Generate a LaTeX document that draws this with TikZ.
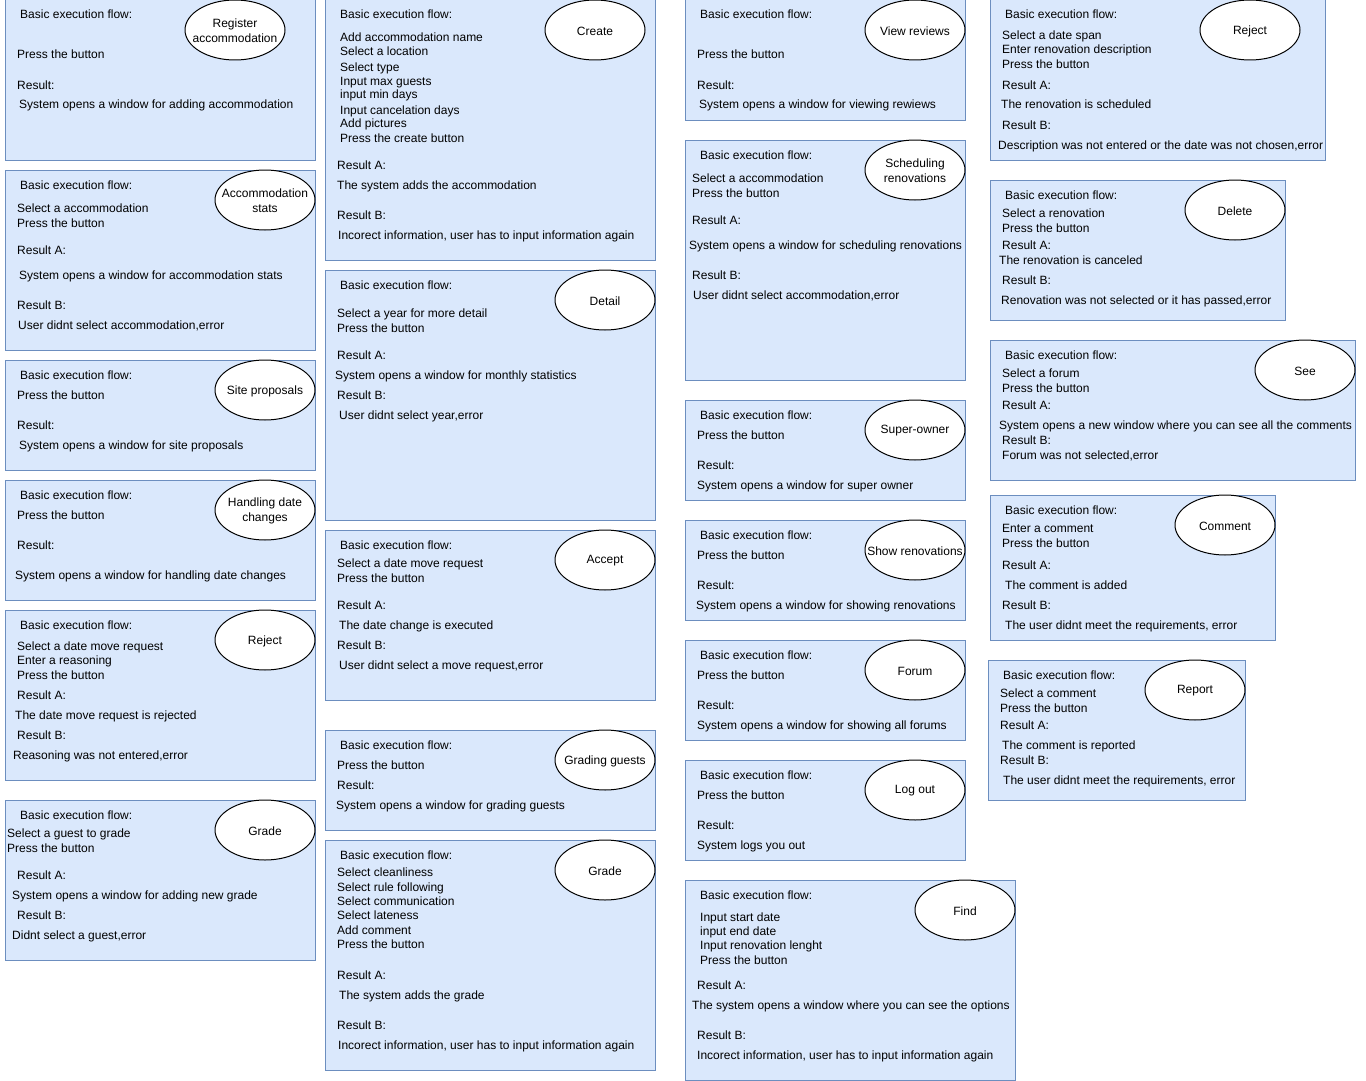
\documentclass[tikz,border=0pt]{standalone}
\usepackage{fontspec}
\setmainfont{Liberation Sans}
\usetikzlibrary{shapes.geometric,fit}
\definecolor{boxfill}{HTML}{DAE8FC}
\definecolor{boxline}{HTML}{6C8EBF}
\newcounter{tn}
\newcommand\tl[3]{\stepcounter{tn}\node[txt] (t\arabic{tn}) at (#1,#2) {#3};}
\newcommand\bx[5]{\node[box, fit={(#2,#3) (#4,#5)}] (#1) {};}
\newcommand\el[4]{\node[ell] (#1) at (#2,#3) {};\node[elltxt] (#1t) at (#1.center) {#4};}
\begin{document}
\begin{tikzpicture}[x=1pt,y=-1pt,
  box/.style={draw=boxline, fill=boxfill, line width=1pt, inner sep=0pt},
  ell/.style={ellipse, draw=black, fill=white, line width=1pt, minimum width=100pt, minimum height=60pt, inner sep=0pt},
  elltxt/.style={inner sep=0pt, align=center, yshift=-1pt, font=\fontsize{12}{15}\selectfont},
  txt/.style={anchor=west, inner sep=0pt, yshift=-2pt, text height=9pt, text depth=3pt, font=\fontsize{12}{14}\selectfont}]
\useasboundingbox (0,0) rectangle (1366,1081);
% ---------- Column 1 ----------
\bx{b1}{5}{0}{315}{160}
\el{e1}{235}{30}{Register\\accommodation}
\tl{20}{14}{Basic execution flow:}
\tl{17}{54}{Press the button}
\tl{17}{84}{Result:}
\tl{19}{104}{System opens a window for adding accommodation}

\bx{b2}{5}{170}{315}{350}
\el{e2}{265}{200}{Accommodation\\stats}
\tl{20}{184}{Basic execution flow:}
\tl{17}{207}{Select a accommodation}
\tl{17}{222}{Press the button}
\tl{17}{249}{Result A:}
\tl{19}{274}{System opens a window for accommodation stats}
\tl{17}{304}{Result B:}
\tl{18}{324}{User didnt select accommodation,error}

\bx{b3}{5}{360}{315}{470}
\el{e3}{265}{390}{Site proposals}
\tl{20}{374}{Basic execution flow:}
\tl{17}{394}{Press the button}
\tl{17}{424}{Result:}
\tl{19}{444}{System opens a window for site proposals}

\bx{b4}{5}{480}{315}{600}
\el{e4}{265}{510}{Handling date\\changes}
\tl{20}{494}{Basic execution flow:}
\tl{17}{514}{Press the button}
\tl{17}{544}{Result:}
\tl{15}{574}{System opens a window for handling date changes}

\bx{b5}{5}{610}{315}{780}
\el{e5}{265}{640}{Reject}
\tl{20}{624}{Basic execution flow:}
\tl{17}{645}{Select a date move request}
\tl{17}{659}{Enter a reasoning}
\tl{17}{674}{Press the button}
\tl{17}{694}{Result A:}
\tl{15}{714}{The date move request is rejected}
\tl{17}{734}{Result B:}
\tl{13}{754}{Reasoning was not entered,error}

\bx{b6}{5}{800}{315}{960}
\el{e6}{265}{830}{Grade}
\tl{20}{814}{Basic execution flow:}
\tl{7}{832}{Select a guest to grade}
\tl{7}{847}{Press the button}
\tl{17}{874}{Result A:}
\tl{12}{894}{System opens a window for adding new grade}
\tl{17}{914}{Result B:}
\tl{12}{934}{Didnt select a guest,error}

% ---------- Column 2 ----------
\bx{b7}{325}{0}{655}{260}
\el{e7}{595}{30}{Create}
\tl{340}{14}{Basic execution flow:}
\tl{340}{37}{Add accommodation name}
\tl{340}{51}{Select a location}
\tl{340}{66}{Select type}
\tl{340}{80}{Input max guests}
\tl{340}{94}{input min days}
\tl{340}{109}{Input cancelation days}
\tl{340}{123}{Add pictures}
\tl{340}{137}{Press the create button}
\tl{337}{164}{Result A:}
\tl{337}{184}{The system adds the accommodation}
\tl{337}{214}{Result B:}
\tl{338}{234}{Incorect information, user has to input information again}

\bx{b8}{325}{270}{655}{520}
\el{e8}{605}{300}{Detail}
\tl{340}{284}{Basic execution flow:}
\tl{337}{312}{Select a year for more detail}
\tl{337}{327}{Press the button}
\tl{337}{354}{Result A:}
\tl{335}{374}{System opens a window for monthly statistics}
\tl{337}{394}{Result B:}
\tl{339}{414}{User didnt select year,error}

\bx{b9}{325}{530}{655}{700}
\el{e9}{605}{560}{Accept}
\tl{340}{544}{Basic execution flow:}
\tl{337}{562}{Select a date move request}
\tl{337}{577}{Press the button}
\tl{337}{604}{Result A:}
\tl{339}{624}{The date change is executed}
\tl{337}{644}{Result B:}
\tl{339}{664}{User didnt select a move request,error}

\bx{b10}{325}{730}{655}{830}
\el{e10}{605}{760}{Grading guests}
\tl{340}{744}{Basic execution flow:}
\tl{337}{764}{Press the button}
\tl{337}{784}{Result:}
\tl{336}{804}{System opens a window for grading guests}

\bx{b11}{325}{840}{655}{1070}
\el{e11}{605}{870}{Grade}
\tl{340}{854}{Basic execution flow:}
\tl{337}{871}{Select cleanliness}
\tl{337}{886}{Select rule following}
\tl{337}{900}{Select communication}
\tl{337}{914}{Select lateness}
\tl{337}{929}{Add comment}
\tl{337}{943}{Press the button}
\tl{337}{974}{Result A:}
\tl{339}{994}{The system adds the grade}
\tl{337}{1024}{Result B:}
\tl{338}{1044}{Incorect information, user has to input information again}

% ---------- Column 3 ----------
\bx{b12}{685}{0}{965}{120}
\el{e12}{915}{30}{View reviews}
\tl{700}{14}{Basic execution flow:}
\tl{697}{54}{Press the button}
\tl{697}{84}{Result:}
\tl{699}{104}{System opens a window for viewing rewiews}

\bx{b13}{685}{140}{965}{380}
\el{e13}{915}{170}{Scheduling\\renovations}
\tl{700}{154}{Basic execution flow:}
\tl{692}{177}{Select a accommodation}
\tl{692}{192}{Press the button}
\tl{692}{219}{Result A:}
\tl{689}{244}{System opens a window for scheduling renovations}
\tl{692}{274}{Result B:}
\tl{693}{294}{User didnt select accommodation,error}

\bx{b14}{685}{400}{965}{500}
\el{e14}{915}{430}{Super-owner}
\tl{700}{414}{Basic execution flow:}
\tl{697}{434}{Press the button}
\tl{697}{464}{Result:}
\tl{697}{484}{System opens a window for super owner}

\bx{b15}{685}{520}{965}{620}
\el{e15}{915}{550}{Show renovations}
\tl{700}{534}{Basic execution flow:}
\tl{697}{554}{Press the button}
\tl{697}{584}{Result:}
\tl{696}{604}{System opens a window for showing renovations}

\bx{b16}{685}{640}{965}{740}
\el{e16}{915}{670}{Forum}
\tl{700}{654}{Basic execution flow:}
\tl{697}{674}{Press the button}
\tl{697}{704}{Result:}
\tl{697}{724}{System opens a window for showing all forums}

\bx{b17}{685}{760}{965}{860}
\el{e17}{915}{790}{Log out}
\tl{700}{774}{Basic execution flow:}
\tl{697}{794}{Press the button}
\tl{697}{824}{Result:}
\tl{697}{844}{System logs you out}

\bx{b18}{685}{880}{1015}{1080}
\el{e18}{965}{910}{Find}
\tl{700}{894}{Basic execution flow:}
\tl{700}{916}{Input start date}
\tl{700}{930}{input end date}
\tl{700}{944}{Input renovation lenght}
\tl{700}{959}{Press the button}
\tl{697}{984}{Result A:}
\tl{692}{1004}{The system opens a window where you can see the options}
\tl{697}{1034}{Result B:}
\tl{697}{1054}{Incorect information, user has to input information again}

% ---------- Column 4 ----------
\bx{b19}{990}{0}{1325}{160}
\el{e19}{1250}{30}{Reject}
\tl{1005}{14}{Basic execution flow:}
\tl{1002}{35}{Select a date span}
\tl{1002}{49}{Enter renovation description}
\tl{1002}{64}{Press the button}
\tl{1002}{84}{Result A:}
\tl{1001}{104}{The renovation is scheduled}
\tl{1002}{124}{Result B:}
\tl{998}{144}{Description was not entered or the date was not chosen,error}

\bx{b20}{990}{180}{1285}{320}
\el{e20}{1235}{210}{Delete}
\tl{1005}{194}{Basic execution flow:}
\tl{1002}{212}{Select a renovation}
\tl{1002}{227}{Press the button}
\tl{1002}{244}{Result A:}
\tl{999}{259}{The renovation is canceled}
\tl{1002}{279}{Result B:}
\tl{1001}{299}{Renovation was not selected or it has passed,error}

\bx{b21}{990}{340}{1355}{480}
\el{e21}{1305}{370}{See}
\tl{1005}{354}{Basic execution flow:}
\tl{1002}{372}{Select a forum}
\tl{1002}{387}{Press the button}
\tl{1002}{404}{Result A:}
\tl{999}{424}{System opens a new window where you can see all the comments}
\tl{1002}{439}{Result B:}
\tl{1002}{454}{Forum was not selected,error}

\bx{b22}{990}{495}{1275}{640}
\el{e22}{1225}{525}{Comment}
\tl{1005}{509}{Basic execution flow:}
\tl{1002}{527}{Enter a comment}
\tl{1002}{542}{Press the button}
\tl{1002}{564}{Result A:}
\tl{1005}{584}{The comment is added}
\tl{1002}{604}{Result B:}
\tl{1005}{624}{The user didnt meet the requirements, error}

\bx{b23}{988}{660}{1245}{800}
\el{e23}{1195}{690}{Report}
\tl{1003}{674}{Basic execution flow:}
\tl{1000}{692}{Select a comment}
\tl{1000}{707}{Press the button}
\tl{1000}{724}{Result A:}
\tl{1002}{744}{The comment is reported}
\tl{1000}{759}{Result B:}
\tl{1003}{779}{The user didnt meet the requirements, error}
\end{tikzpicture}
\end{document}
